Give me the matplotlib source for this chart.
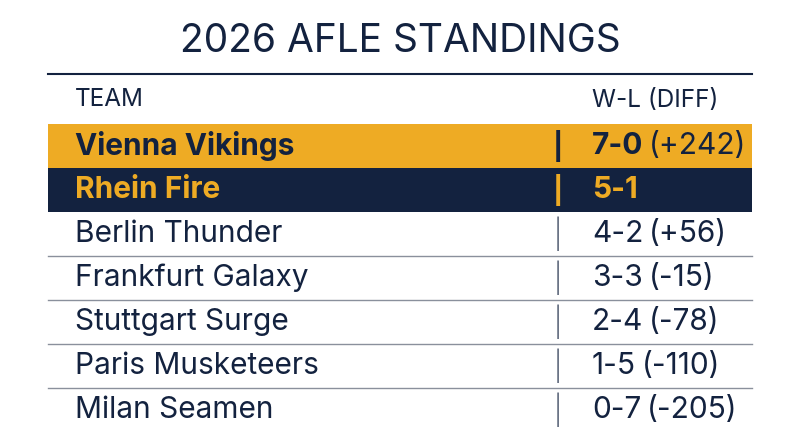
import matplotlib.pyplot as plt
from matplotlib.patches import Rectangle

plt.rcParams['font.family'] = ['Inter', 'DejaVu Sans']

teams = ['Vienna Vikings', 'Rhein Fire', 'Berlin Thunder', 'Frankfurt Galaxy',
         'Stuttgart Surge', 'Paris Musketeers', 'Milan Seamen']
records = ['7-0', '5-1', '4-2', '3-3', '2-4', '1-5', '0-7']
diffs = ['(+242)', '', '(+56)', '(-15)', '(-78)', '(-110)', '(-205)']

NAVY = '#13223f'
GOLD = '#eeab24'

fig = plt.figure(figsize=(8, 4.47), dpi=100)
ax = fig.add_axes([0, 0, 1, 1])
ax.set_xlim(0, 800)
ax.set_ylim(447, 0)
ax.axis('off')

ax.text(400, 42, '2026 AFLE STANDINGS', ha='center', va='center', fontsize=28, color=NAVY)
ax.plot([48, 752], [74, 74], color=NAVY, lw=1.5)
ax.text(75, 100, 'TEAM', ha='left', va='center', fontsize=17.5, color=NAVY)
ax.text(592, 100, 'W-L (DIFF)', ha='left', va='center', fontsize=17.5, color=NAVY)

row_h = 44
top = 124
for i, (t, r, d) in enumerate(zip(teams, records, diffs)):
    y0 = top + i * row_h
    yc = y0 + row_h / 2
    if i == 0:
        ax.add_patch(Rectangle((48, y0), 704, row_h, color=GOLD, lw=0))
        tc, w = NAVY, 'bold'
    elif i == 1:
        ax.add_patch(Rectangle((48, y0), 704, row_h, color=NAVY, lw=0))
        tc, w = GOLD, 'bold'
    else:
        tc, w = NAVY, 'normal'
        if i < len(teams) - 1:
            ax.plot([48, 752], [y0 + row_h, y0 + row_h], color='#8a909c', lw=1)
    ax.text(75, yc, t, ha='left', va='center', fontsize=21.5, color=tc, fontweight=w)
    ax.text(558, yc, '|', ha='center', va='center', fontsize=20, color=tc,
            fontweight=w if w == 'bold' else 'light')
    rt = ax.text(592, yc, r, ha='left', va='center', fontsize=21.5, color=tc, fontweight=w)
    if d:
        fig.canvas.draw()
        bb = rt.get_window_extent()
        ax.text(bb.x1 + 6, yc, d, ha='left', va='center', fontsize=21.5, color=tc)

fig.savefig('out.png', dpi=100)
